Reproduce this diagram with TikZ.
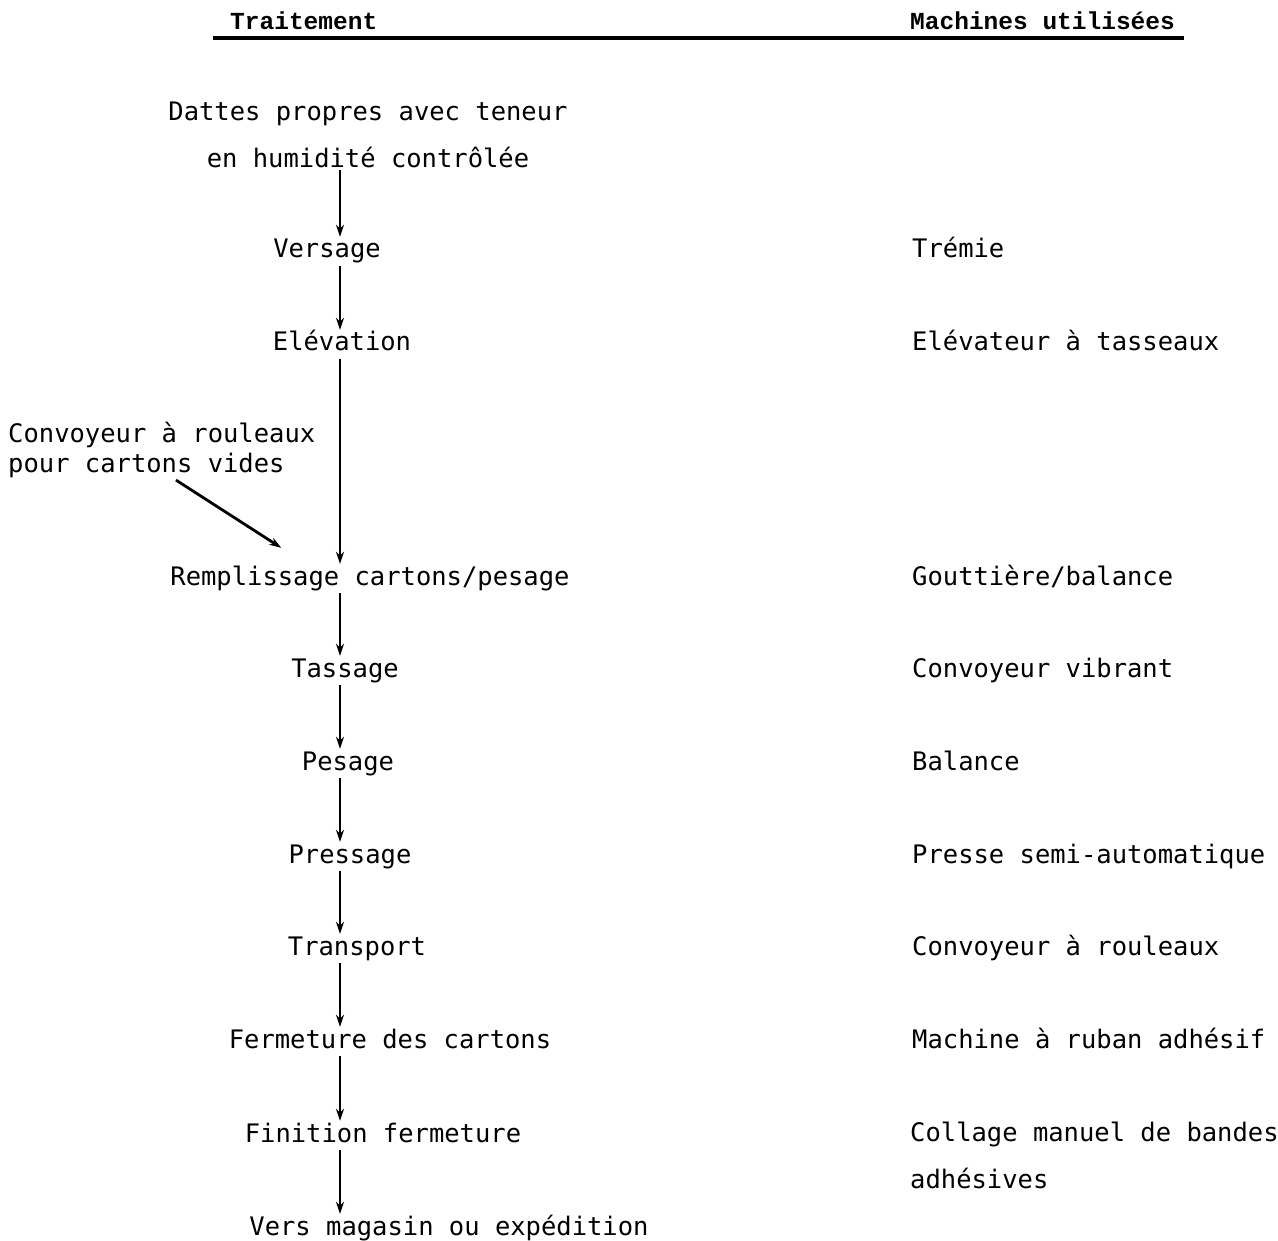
\documentclass[tikz,border=0pt]{standalone}
\usepackage{fontspec}
\usetikzlibrary{arrows.meta}
\newfontfamily\typeface{DejaVu Sans Mono}
\newfontfamily\headface{Liberation Mono}

\begin{document}
\begin{tikzpicture}[x=1pt, y=-1pt,
      every node/.style = {font=\typeface\fontsize{25.5}{47}\selectfont, inner sep=2pt},
      heading/.style = {anchor=base west, font=\headface\bfseries\fontsize{24.5}{28}\selectfont},
      stage/.style = {anchor=base, text height=19pt, text depth=6pt},
      machine/.style = {anchor=base west},
      flow/.style = {line width=2.8pt, -{Stealth[length=12pt,width=8pt]}}]
  \useasboundingbox (0,0) rectangle (1278,1241);
  \coordinate (spine) at (340,0);

  % headings
  \node[heading] (trait) at (228,30) {Traitement};
  \node[heading] (mach) at (908,30) {Machines utilisées};
  \draw[line width=3.5pt] (213,38) -- (1184,38);

  % treatment steps
  \node[anchor=south, align=center] (dattes) at (368,170)
    {Dattes propres avec teneur\\en humidité contrôlée};
  \node[stage] (vers) at (327,258) {Versage};
  \node[stage] (elev) at (342,351) {Elévation};
  \node[anchor=north west, align=left, font=\typeface\fontsize{25.5}{30}\selectfont] (conv) at (6,420)
    {Convoyeur à rouleaux\\pour cartons vides};
  \node[stage] (rempl) at (370,585) {Remplissage cartons/pesage};
  \node[stage] (tass) at (345,677) {Tassage};
  \node[stage] (pes) at (348,770) {Pesage};
  \node[stage] (press) at (350,863) {Pressage};
  \node[stage] (trans) at (357,955) {Transport};
  \node[stage] (ferm) at (390,1048) {Fermeture des cartons};
  \node[stage] (fini) at (383,1142) {Finition fermeture};
  \node[stage] (sortie) at (449,1235) {Vers magasin ou expédition};

  % machines
  \node[machine] (tremie) at (910,258) {Trémie};
  \node[machine] (elevat) at (910,351) {Elévateur à tasseaux};
  \node[machine] (gout) at (910,585) {Gouttière/balance};
  \node[machine] (vibr) at (910,677) {Convoyeur vibrant};
  \node[machine] (bal) at (910,770) {Balance};
  \node[machine] (presse) at (910,863) {Presse semi-automatique};
  \node[machine] (roul) at (910,955) {Convoyeur à rouleaux};
  \node[machine] (ruban) at (910,1048) {Machine à ruban adhésif};
  \node[anchor=north west, align=left] (coll) at (908,1120)
    {Collage manuel de bandes\\adhésives};

  % flow
  \draw[flow] (dattes.south -| spine) -- (vers.north -| spine);
  \draw[flow] (vers.south -| spine) -- (elev.north -| spine);
  \draw[flow] (elev.south -| spine) -- (rempl.north -| spine);
  \draw[flow] ([xshift=170pt]conv.south west) -- ([xshift=113pt,yshift=16pt]rempl.north west);
  \draw[flow] (rempl.south -| spine) -- (tass.north -| spine);
  \draw[flow] (tass.south -| spine) -- (pes.north -| spine);
  \draw[flow] (pes.south -| spine) -- (press.north -| spine);
  \draw[flow] (press.south -| spine) -- (trans.north -| spine);
  \draw[flow] (trans.south -| spine) -- (ferm.north -| spine);
  \draw[flow] (ferm.south -| spine) -- (fini.north -| spine);
  \draw[flow] (fini.south -| spine) -- (sortie.north -| spine);
\end{tikzpicture}
\end{document}
